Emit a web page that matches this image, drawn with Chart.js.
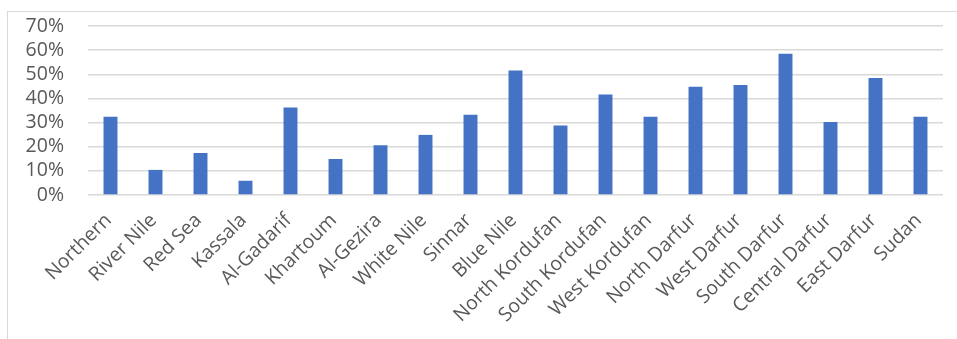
<!DOCTYPE html>
<html>
<head>
<meta charset="utf-8">
<script src="https://cdn.jsdelivr.net/npm/chart.js@4"></script>
<style>
  html, body { margin: 0; padding: 0; background: #ffffff; }
  #wrap { position: relative; width: 957px; height: 339px; overflow: hidden; }
  #frame { position: absolute; left: 7px; top: 11px; width: 980px; height: 360px; border: 1px solid #d9d9d9; box-sizing: border-box; }
  canvas { position: absolute; left: 0; top: 0; }
</style>
</head>
<body>
<div id="wrap">
  <div id="frame"></div>
  <canvas id="c" width="957" height="339"></canvas>
</div>
<script>
const categories = ["Northern", "River Nile", "Red Sea", "Kassala", "Al-Gadarif", "Khartoum", "Al-Gezira", "White Nile", "Sinnar", "Blue Nile", "North Kordufan", "South Kordufan", "West Kordufan", "North Darfur", "West Darfur", "South Darfur", "Central Darfur", "East Darfur", "Sudan"];
const values = [32.4, 10.4, 17.4, 5.9, 36.2, 14.9, 20.6, 24.9, 33.2, 51.6, 28.8, 41.6, 32.4, 44.8, 45.6, 58.5, 30.2, 48.5, 32.4];
const yTicks = [0, 10, 20, 30, 40, 50, 60, 70];

new Chart(document.getElementById('c'), {
  type: 'bar',
  data: {
    labels: categories,
    datasets: [{
      data: values,
      backgroundColor: '#4472C4',
      borderWidth: 0,
      categoryPercentage: 1.0,
      barPercentage: 0.31
    }]
  },
  options: {
    responsive: false,
    animation: false,
    events: [],
    layout: { padding: { left: 0, right: 14, top: 26, bottom: 0 } },
    plugins: { legend: { display: false }, tooltip: { enabled: false } },
    scales: {
      x: {
        grid: { display: false },
        border: { display: false },
        ticks: {
          autoSkip: false,
          minRotation: 45,
          maxRotation: 45,
          padding: 6,
          labelOffset: -2,
          color: '#595959',
          font: { family: 'Open Sans', size: 19.5 }
        },
        afterFit: (s) => { s.height = 144; }
      },
      y: {
        min: 0,
        max: 70,
        afterBuildTicks: (s) => { s.ticks = yTicks.map(v => ({ value: v })); },
        grid: { color: '#d9d9d9', lineWidth: 1.5, drawTicks: false },
        border: { display: false },
        ticks: {
          autoSkip: false,
          padding: 24,
          color: '#595959',
          font: { family: 'Open Sans', size: 19.5 },
          callback: (v) => v + '%'
        },
        afterFit: (s) => { s.width = 88; s.paddingTop = 0; s.paddingBottom = 0; }
      }
    }
  }
});
</script>
</body>
</html>
